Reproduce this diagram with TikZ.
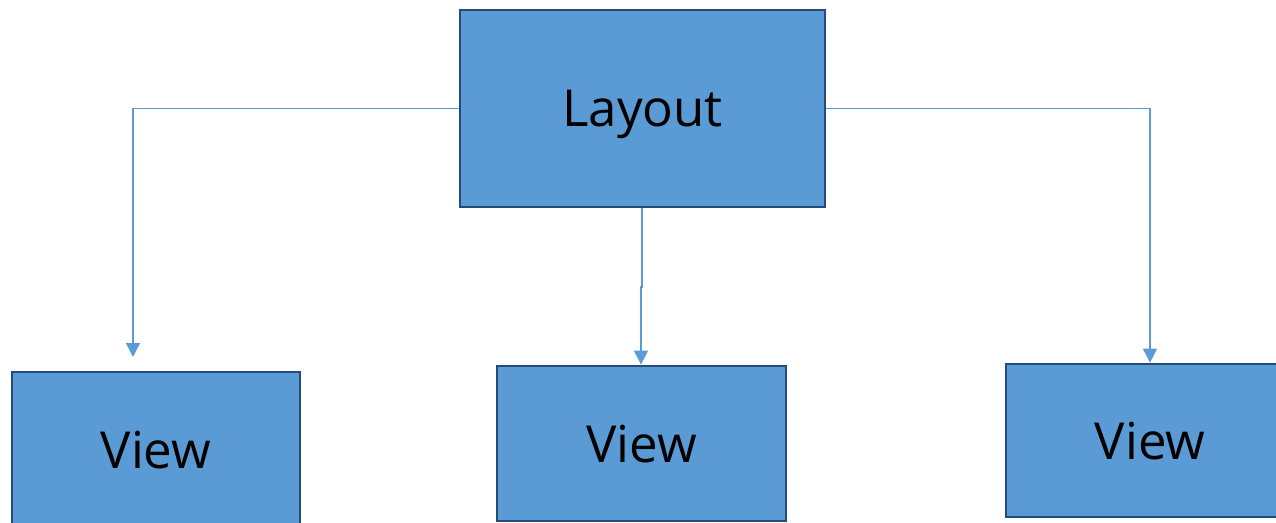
\documentclass[tikz,border=0pt]{standalone}
\usepackage{fontspec}
\setmainfont{Open Sans}
\usetikzlibrary{arrows.meta}
\definecolor{boxfill}{HTML}{5B9BD5}
\definecolor{boxline}{HTML}{264B78}
\definecolor{conn}{HTML}{5B9BD5}
\begin{document}
\begin{tikzpicture}[x=1pt,y=-1pt,
  box/.style={draw=boxline, fill=boxfill, line width=2.8pt, inner sep=0pt,
    text depth=0pt, font=\fontsize{51}{60}\selectfont, text=black},
  conn/.style={draw=conn, line width=1.3pt, -{Triangle[width=14pt,length=14pt]}}]
\useasboundingbox (0,0) rectangle (1276,522);
\clip (0,0) rectangle (1276,522);
\node[box, minimum width=365pt, minimum height=197pt] (layout) at (642.5,108.5) {Layout};
\node[box, minimum width=288pt, minimum height=156pt] (v1) at (156,450) {View};
\node[box, minimum width=289pt, minimum height=155pt] (v2) at (641.5,443.5) {View};
\node[box, minimum width=288pt, minimum height=153pt] (v3) at (1150,440.5) {View};
\coordinate (t1) at (133,357);
\coordinate (j1) at (642,287);
\coordinate (j2) at (641,287);
\draw[conn] (layout.west) -| (t1);
\draw[conn] (layout.south -| j1) -- (j1) -- (j2) -- (v2.north -| j2);
\draw[conn] (layout.east) -| (v3.north);
\end{tikzpicture}
\end{document}
